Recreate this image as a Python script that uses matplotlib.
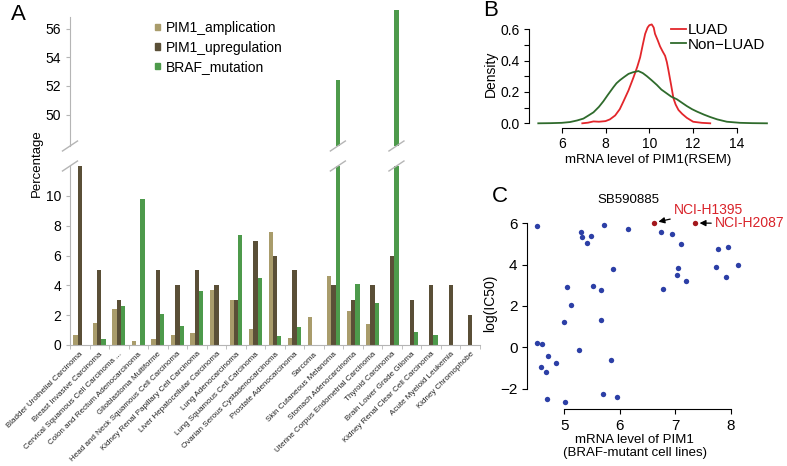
import matplotlib
matplotlib.use("Agg")
import matplotlib.pyplot as plt
import matplotlib.transforms as mtransforms
from matplotlib.patches import Patch
from matplotlib.lines import Line2D
import numpy as np

plt.rcParams['font.family'] = ['Liberation Sans', 'DejaVu Sans']

# ---------------- Data ----------------
categories = [
    "Bladder Urothelial Carcinoma", "Breast Invasive Carcinoma",
    "Cervical Squamous Cell Carcinoma ...", "Colon and Rectum Adenocarcinoma",
    "Glioblastoma Multiforme", "Head and Neck Squamous Cell Carcinoma",
    "Kidney Renal Papillary Cell Carcinoma", "Liver Hepatocellular Carcinoma",
    "Lung Adenocarcinoma", "Lung Squamous Cell Carcinoma",
    "Ovarian Serous Cystadenocarcinoma", "Prostate Adenocarcinoma", "Sarcoma",
    "Skin Cutaneous Melanoma", "Stomach Adenocarcinoma",
    "Uterine Corpus Endometrial Carcinoma", "Thyroid Carcinoma",
    "Brain Lower Grade Glioma", "Kidney Renal Clear Cell Carcinoma",
    "Acute Myeloid Leukemia", "Kidney Chromophobe",
]
pim1_amplication = [0.7, 1.5, 2.4, 0.3, 0.4, 0.7, 0.8, 3.7, 3.0, 1.1, 7.6,
                    0.5, 1.9, 4.6, 2.3, 1.4, 0, 0, 0, 0, 0]
pim1_upregulation = [12.5, 5, 3, 0, 5, 4, 5, 4, 3, 7, 6, 5, 0, 4, 3, 4, 6,
                     3, 4, 4, 2]
braf_mutation = [0, 0.4, 2.6, 9.8, 2.1, 1.3, 3.6, 0, 7.4, 4.5, 0.6, 1.2, 0,
                 52.4, 4.1, 2.8, 57.3, 0.9, 0.7, 0, 0]
series_names = ["PIM1_amplication", "PIM1_upregulation", "BRAF_mutation"]

luad_x = [6.94, 7.2, 7.45, 7.7, 8.0, 8.2, 8.44, 8.65, 8.82, 9.05, 9.27, 9.45,
          9.58, 9.7, 9.81, 9.92, 10.0, 10.11, 10.2, 10.26, 10.38, 10.49, 10.6,
          10.72, 10.8, 10.87, 11.0, 11.1, 11.2, 11.33, 11.5, 11.71, 12.0,
          12.4, 12.78]
luad_y = [0.0, 0.004, 0.012, 0.01, 0.014, 0.025, 0.05, 0.09, 0.14, 0.21,
          0.29, 0.36, 0.42, 0.50, 0.57, 0.61, 0.625, 0.63, 0.61, 0.57, 0.53,
          0.49, 0.46, 0.43, 0.39, 0.34, 0.24, 0.16, 0.12, 0.085, 0.06, 0.035,
          0.01, 0.003, 0.0]
nonluad_x = [4.93, 5.5, 6.0, 6.38, 6.7, 6.99, 7.2, 7.45, 7.7, 7.9, 8.1, 8.36,
             8.5, 8.66, 8.85, 9.05, 9.25, 9.5, 9.7, 9.89, 10.1, 10.34, 10.55,
             10.8, 11.0, 11.26, 11.5, 11.71, 11.95, 12.17, 12.5, 12.78, 13.1,
             13.54, 14.15, 14.7, 15.37]
nonluad_y = [0.0, 0.001, 0.003, 0.008, 0.018, 0.03, 0.048, 0.07, 0.105, 0.14,
             0.18, 0.23, 0.255, 0.275, 0.295, 0.315, 0.325, 0.333, 0.32, 0.30,
             0.275, 0.245, 0.215, 0.19, 0.17, 0.153, 0.13, 0.11, 0.09, 0.075,
             0.055, 0.04, 0.025, 0.01, 0.003, 0.001, 0.0]

cell_x = [4.51, 5.72, 5.30, 5.31, 5.48, 5.41, 6.15, 6.74, 6.94, 7.10, 5.88,
          7.77, 7.95, 7.73, 8.12, 7.91, 7.04, 7.02, 7.19, 6.78, 5.04, 5.52,
          5.65, 5.12, 4.99, 5.66, 4.50, 4.60, 5.26, 4.71, 4.84, 4.57, 5.83,
          4.67, 4.68, 5.01, 5.69, 5.95]
cell_y = [5.87, 5.92, 5.60, 5.35, 5.40, 5.03, 5.71, 5.56, 5.50, 5.02, 3.79,
          4.74, 4.87, 3.90, 3.97, 3.39, 3.82, 3.48, 3.23, 2.82, 2.92, 2.97,
          2.77, 2.05, 1.23, 1.31, 0.19, 0.18, -0.13, -0.42, -0.77, -0.94,
          -0.63, -1.18, -2.50, -2.63, -2.27, -2.39]
hl_names = ["NCI-H1395", "NCI-H2087"]
hl_x = [6.62, 7.36]
hl_y = [6.03, 6.01]

# ---------------- Figure ----------------
W, H = 787, 466
fig = plt.figure(figsize=(W / 100, H / 100), dpi=100)

def px_axes(left, top, right, bottom):
    return fig.add_axes([left / W, 1 - bottom / H, (right - left) / W, (bottom - top) / H])

spine_gray = "#b5b5b5"
c_amp, c_up, c_braf = "#a99c6b", "#5a4f37", "#4d9a4b"

# Panel A
axU = px_axes(70, 7, 480, 146)
axL = px_axes(70, 166, 480, 345)
n = len(categories)
xpos = np.arange(n)
bw = 0.22
for ax in (axU, axL):
    ax.bar(xpos - bw, pim1_amplication, bw, color=c_amp, label=series_names[0])
    ax.bar(xpos, pim1_upregulation, bw, color=c_up, label=series_names[1])
    ax.bar(xpos + bw, braf_mutation, bw, color=c_braf, label=series_names[2])
    ax.set_xlim(-0.5, n - 0.5)
    for s in ("top", "right"):
        ax.spines[s].set_visible(False)
    ax.spines["left"].set_color(spine_gray)
    ax.tick_params(axis="y", colors=spine_gray, labelcolor="black",
                   labelsize=10, length=3, width=0.8)
axU.set_ylim(47.8, 57.52)
axU.set_yticks([50, 52, 54, 56])
axU.spines["bottom"].set_visible(False)
axU.spines["left"].set_bounds(47.8, 56.8)
axU.set_xticks([])
axL.set_ylim(0, 12)
axL.set_yticks([0, 2, 4, 6, 8, 10])
axL.spines["bottom"].set_color(spine_gray)
axL.set_xticks(xpos)
axL.set_xticklabels(categories, rotation=45, ha="right", va="top",
                    rotation_mode="anchor", fontsize=5.8, color="#222222")
axL.set_xticks(np.arange(n + 1) - 0.5, minor=True)
axL.tick_params(axis="x", which="major", length=0, pad=4)
axL.tick_params(axis="x", which="minor", length=3, color=spine_gray)

# break marks
def slash(x, y, transform):
    xd, yd = 7.5 / 100, 5 / 100
    disp = transform.transform((x, y))
    inch = fig.dpi_scale_trans.inverted().transform(disp)
    line = Line2D([inch[0] - xd, inch[0] + xd], [inch[1] - yd, inch[1] + yd],
                  color=spine_gray, lw=1, transform=fig.dpi_scale_trans,
                  clip_on=False)
    fig.add_artist(line)

slash(0, 0, axU.transAxes)
slash(0, 1, axL.transAxes)
for i, v in enumerate(braf_mutation):
    if v > 12:
        slash(i + bw, 0, mtransforms.blended_transform_factory(axU.transData, axU.transAxes))
        slash(i + bw, 1, mtransforms.blended_transform_factory(axL.transData, axL.transAxes))

hA = [Patch(color=c) for c in (c_amp, c_up, c_braf)]
axU.legend(hA, series_names, loc="upper left", bbox_to_anchor=(155 / W, 1 - 21 / H),
           bbox_transform=fig.transFigure, frameon=False, fontsize=10,
           handlelength=0.35, handleheight=0.35, handletextpad=0.4,
           labelspacing=0.4, borderpad=0, borderaxespad=0)
fig.text(37 / W, 1 - 163 / H, "Percentage", rotation=90, ha="center",
         va="center", fontsize=9.5)
fig.text(18 / W, 1 - 15 / H, "A", ha="center", va="center", fontsize=16)

# Panel B
axB = px_axes(529.3, 20.5, 767.6, 127.7)
axB.plot(luad_x, luad_y, color="#e3262b", lw=1.3, label="LUAD")
axB.plot(nonluad_x, nonluad_y, color="#2f6b2c", lw=1.3, label="Non\u2212LUAD")
axB.set_xlim(4.52, 15.4)
axB.set_ylim(-0.028, 0.655)
axB.set_xticks([6, 8, 10, 12, 14])
axB.set_yticks([0.0, 0.1, 0.2, 0.3, 0.4, 0.5, 0.6])
axB.set_yticklabels(["0.0", "", "0.2", "", "0.4", "", "0.6"])
for s in ("top", "right"):
    axB.spines[s].set_visible(False)
axB.spines["left"].set_bounds(0, 0.6)
axB.spines["bottom"].set_bounds(6, 14)
axB.tick_params(labelsize=10, length=3.5, width=0.8)
axB.set_xlabel("mRNA level of PIM1(RSEM)", fontsize=9.5, labelpad=2)
axB.set_ylabel("Density", fontsize=10, labelpad=2)
axB.legend(loc="upper left", bbox_to_anchor=(671 / W, 1 - 23 / H),
           bbox_transform=fig.transFigure, frameon=False, fontsize=11,
           handlelength=1.0, handletextpad=0.1, labelspacing=0.05,
           borderpad=0, borderaxespad=0)
fig.text(491 / W, 1 - 11 / H, "B", ha="center", va="center", fontsize=16)

# Panel C
axC = px_axes(527.3, 197, 742, 409.3)
axC.scatter(cell_x, cell_y, s=15, color="#2c3fa6", linewidths=0)
axC.scatter(hl_x, hl_y, s=15, color="#a3171c", linewidths=0)
axC.set_xlim(4.33, 8.2)
axC.set_ylim(-3.0, 7.27)
axC.set_xticks([5, 6, 7, 8])
axC.set_yticks([-2, 0, 2, 4, 6])
for s in ("top", "right"):
    axC.spines[s].set_visible(False)
axC.spines["left"].set_bounds(-2, 6)
axC.spines["bottom"].set_bounds(5, 8)
axC.tick_params(labelsize=11, length=3.5, width=0.8)
axC.set_xlabel("mRNA level of PIM1\n(BRAF-mutant cell lines)", fontsize=9.5,
               labelpad=1, linespacing=1.05)
axC.set_ylabel("log(IC50)", fontsize=10, labelpad=2)
axC.text(6.15, 7.13, "SB590885", ha="center", va="center", fontsize=9.5)
axC.annotate(hl_names[0], xy=(hl_x[0], hl_y[0]), xytext=(6.98, 6.62),
             ha="left", va="center", color="#d9232a", fontsize=10,
             arrowprops=dict(arrowstyle="-|>", color="black", lw=0.9,
                             shrinkA=1, shrinkB=3, mutation_scale=9))
axC.annotate(hl_names[1], xy=(hl_x[1], hl_y[1]), xytext=(7.72, 5.99),
             ha="left", va="center", color="#d9232a", fontsize=10,
             annotation_clip=False,
             arrowprops=dict(arrowstyle="-|>", color="black", lw=0.9,
                             shrinkA=1, shrinkB=3, mutation_scale=9))
fig.text(500 / W, 1 - 197 / H, "C", ha="center", va="center", fontsize=16)

fig.savefig("out.png", dpi=100)
